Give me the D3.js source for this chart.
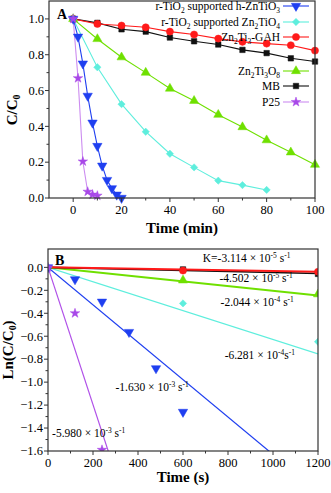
<!DOCTYPE html>
<html><head><meta charset="utf-8">
<script src="https://cdn.jsdelivr.net/npm/d3@7"></script>
<style>body{margin:0;background:#fff}svg{display:block}text{font-family:"Liberation Serif","Times New Roman",serif;fill:#000}</style>
</head><body><svg id="c" width="331" height="493"></svg>
<script>
// ---------- Panel A data ----------
const seriesNames = ["r-TiO_2 supported h-ZnTiO_3","r-TiO_2 supported Zn_2TiO_4","Zn_2Ti_3-GAH","Zn_2Ti_3O_8","MB","P25"];
const hZnTiO3_t = [0,2,4,6,8,10,12,14,16,18,20];
const hZnTiO3_c = [1.0,0.9,0.75,0.57,0.42,0.29,0.18,0.10,0.054,0.018,0.0];
const Zn2TiO4_t = [0,10,20,30,40,50,60,70,80];
const Zn2TiO4_c = [1.0,0.73,0.524,0.37,0.247,0.171,0.097,0.072,0.045];
const GAH_t = [0,10,20,30,40,50,60,70,80,90,100];
const GAH_c = [1.0,0.972,0.963,0.953,0.929,0.913,0.89,0.872,0.862,0.853,0.823];
const Zn2Ti3O8_t = [0,10,20,30,40,50,60,70,80,90,100];
const Zn2Ti3O8_c = [1.0,0.888,0.786,0.70,0.611,0.543,0.465,0.396,0.323,0.255,0.186];
const MB_t = [0,10,20,30,40,50,60,70,80,90,100];
const MB_c = [1.0,0.978,0.942,0.929,0.896,0.875,0.857,0.827,0.809,0.78,0.762];
const P25_t = [0,2,4,6,8,10];
const P25_c = [1.0,0.669,0.204,0.035,0.019,0.013];
const ticksA_x = [0,20,40,60,80,100];
const ticksA_y = [0.0,0.2,0.4,0.6,0.8,1.0];

// ---------- Panel B data ----------
const hZnTiO3_s = [0,120,240,360,480,600];
const hZnTiO3_ln = [0,-0.105,-0.30,-0.564,-0.88,-1.26];
const Zn2TiO4_s = [0,600,1200];
const Zn2TiO4_ln = [0,-0.314,-0.648];
const GAH_s = [0,600,1200];
const GAH_ln = [0,-0.028,-0.038];
const Zn2Ti3O8_s = [0,600,1200];
const Zn2Ti3O8_ln = [0,-0.113,-0.234];
const MB_s = [0,600,1200];
const MB_ln = [0,-0.018,-0.057];
const P25_s = [0,120,240];
const P25_ln = [0,-0.40,-1.59];
const rateK = [-1.630e-3,-6.281e-4,-3.114e-5,-2.044e-4,-4.502e-5,-5.980e-3];
const rateLabels = ["-1.630 × 10^{-3} s^{-1}","-6.281 × 10^{-4}s^{-1}","K=-3.114 × 10^{-5} s^{-1}","-2.044 × 10^{-4} s^{-1}","-4.502 × 10^{-5} s^{-1}","-5.980 × 10^{-3} s^{-1}"];
const ticksB_x = [0,200,400,600,800,1000,1200];
const ticksB_y = [0.0,-0.2,-0.4,-0.6,-0.8,-1.0,-1.2,-1.4,-1.6];

// ---------- styles ----------
const colors = ["#1f3ff0","#5eeedd","#ff1a1a","#6fe000","#111111","#a848e8"];
const lineColors = ["#1f3ff0","#5eeedd","#ff1a1a","#6fe000","#111111","#cc8cf0"];
const shapes = [d3.symbolTriangle,d3.symbolDiamond2,d3.symbolCircle,d3.symbolTriangle,d3.symbolSquare,d3.symbolStar];
const rotations = [180,0,0,0,0,0];
const sizes = [38,34,40,36,30,28];

const dataA = [[hZnTiO3_t,hZnTiO3_c],[Zn2TiO4_t,Zn2TiO4_c],[GAH_t,GAH_c],[Zn2Ti3O8_t,Zn2Ti3O8_c],[MB_t,MB_c],[P25_t,P25_c]];
const dataB = [[hZnTiO3_s,hZnTiO3_ln],[Zn2TiO4_s,Zn2TiO4_ln],[GAH_s,GAH_ln],[Zn2Ti3O8_s,Zn2Ti3O8_ln],[MB_s,MB_ln],[P25_s,P25_ln]];

const svg = d3.select("#c");

function rich(sel, str){
  const parts = str.split(/(_\{[^}]*\}|\^\{[^}]*\}|_.|\^.)/).filter(s=>s.length);
  let shift = 0;
  parts.forEach(p=>{
    let txt=p, dy=0, small=false;
    if(p[0]==="_"||p[0]==="^"){
      txt = p[1]==="{"?p.slice(2,-1):p.slice(1);
      const target = p[0]==="_"?3:-4;
      dy = target-shift; shift=target; small=true;
    } else { dy = -shift; shift=0; }
    const t = sel.append("tspan").text(txt).attr("dy",dy);
    if(small) t.attr("font-size","0.65em");
  });
}

function frame(g,x,y){
  const [x0,x1]=x.range(), [y0,y1]=y.range();
  g.append("rect").attr("x",x0).attr("y",Math.min(y0,y1)).attr("width",x1-x0).attr("height",Math.abs(y0-y1))
   .attr("fill","none").attr("stroke","#333").attr("stroke-width",1.2);
}
function axes(g,x,y,xt,yt,xMinor,yMinor,fmtX,fmtY){
  const yb = y.range()[0], xl = x.range()[0];
  xt.forEach(v=>{ g.append("line").attr("x1",x(v)).attr("x2",x(v)).attr("y1",yb).attr("y2",yb+4).attr("stroke","#333");
    g.append("text").attr("x",x(v)).attr("y",yb+16).attr("text-anchor","middle").attr("font-size",12.5).text(fmtX(v)); });
  xMinor.forEach(v=>g.append("line").attr("x1",x(v)).attr("x2",x(v)).attr("y1",yb).attr("y2",yb+2.5).attr("stroke","#333"));
  yt.forEach(v=>{ g.append("line").attr("x1",xl-4).attr("x2",xl).attr("y1",y(v)).attr("y2",y(v)).attr("stroke","#333");
    g.append("text").attr("x",xl-5).attr("y",y(v)+4.3).attr("text-anchor","end").attr("font-size",12.5).text(fmtY(v)); });
  yMinor.forEach(v=>g.append("line").attr("x1",xl-2.5).attr("x2",xl).attr("y1",y(v)).attr("y2",y(v)).attr("stroke","#333"));
}
function marker(g,i,px,py){
  g.append("path").attr("d",d3.symbol().type(shapes[i]).size(sizes[i])())
   .attr("transform",`translate(${px},${py}) rotate(${rotations[i]})`)
   .attr("fill",colors[i]).attr("stroke",colors[i]).attr("stroke-width",0.5);
}

// ---------- Panel A ----------
const xA = d3.scaleLinear().domain([-10,100]).range([49,315]);
const yA = d3.scaleLinear().domain([0,1.1]).range([198,1]);
const gA = svg.append("g");
const drawOrder = [4,2,3,1,0,5];
drawOrder.forEach(i=>{
  const [t,c]=dataA[i];
  const pts = t.map((v,j)=>[xA(v),yA(c[j])]);
  gA.append("path").attr("d",d3.line()(pts)).attr("fill","none").attr("stroke",lineColors[i]).attr("stroke-width",1.1);
});
drawOrder.forEach(i=>{
  const [t,c]=dataA[i];
  t.forEach((v,j)=>marker(gA,i,xA(v),yA(c[j])));
});
frame(gA,xA,yA);
axes(gA,xA,yA,ticksA_x,ticksA_y,d3.range(-10,101,10).filter(v=>v%20!==0&&v>-10),d3.range(0.1,1.1,0.2),d3.format("d"),d3.format(".1f"));
// legend
const legY = [6,22,37,71,86,102];
seriesNames.forEach((n,i)=>{
  const ly = legY[i];
  gA.append("line").attr("x1",283).attr("x2",309).attr("y1",ly).attr("y2",ly).attr("stroke",lineColors[i]).attr("stroke-width",1.1);
  marker(gA,i,296,ly);
  const t = gA.append("text").attr("x",280).attr("y",ly+3.8).attr("text-anchor","end").attr("font-size",11.5);
  rich(t,n);
});
gA.append("text").attr("x",57).attr("y",19).attr("font-size",14).attr("font-weight","bold").text("A");
gA.append("text").attr("x",182).attr("y",233).attr("text-anchor","middle").attr("font-size",15).attr("font-weight","bold").text("Time (min)");
const ytA = gA.append("text").attr("transform","translate(17,110) rotate(-90)").attr("text-anchor","middle").attr("font-size",15).attr("font-weight","bold");
rich(ytA,"C/C_0");

// ---------- Panel B ----------
const xB = d3.scaleLinear().domain([0,1200]).range([48,318]);
const yB = d3.scaleLinear().domain([-1.6,0.16]).range([451,249]);
const gB = svg.append("g");
svg.append("defs").append("clipPath").attr("id","clipB").append("rect")
  .attr("x",48).attr("y",249).attr("width",270).attr("height",202);
const plotB = gB.append("g").attr("clip-path","url(#clipB)");
const fitOrder = [5,0,1,3,4,2];
const fitW = [1.2,1.2,2,2,1.6,1.2];
fitOrder.forEach(i=>{
  const xs=[0,1200];
  plotB.append("path").attr("d",d3.line()(xs.map(v=>[xB(v),yB(rateK[i]*v)])))
    .attr("fill","none").attr("stroke",i===5?"#b050e8":lineColors[i]).attr("stroke-width",fitW[i]);
});
[4,2,3,1,0,5].forEach(i=>{
  const [s,l]=dataB[i];
  s.forEach((v,j)=>{ if(v>0) marker(plotB,i,xB(v),yB(l[j])); });
});
[1,0,5].forEach(i=>marker(plotB,i,xB(0),yB(0)));
frame(gB,xB,yB);
axes(gB,xB,yB,ticksB_x,ticksB_y,d3.range(100,1200,200),d3.range(-1.5,0.1,0.2),d3.format("d"),d3.format(".1f"));
// rate labels
const labPos = [[300,-1.04],[785,-0.763],[688,0.082],[767,-0.30],[762,-0.092],[18,-1.44]];
rateLabels.forEach((txt,i)=>{
  const t = gB.append("text").attr("x",xB(labPos[i][0])).attr("y",yB(labPos[i][1])+4).attr("font-size",11.5);
  rich(t,txt);
});
gB.append("text").attr("x",55).attr("y",265).attr("font-size",14).attr("font-weight","bold").text("B");
gB.append("text").attr("x",183).attr("y",482).attr("text-anchor","middle").attr("font-size",15).attr("font-weight","bold").text("Time (s)");
const ytB = gB.append("text").attr("transform","translate(13,350) rotate(-90)").attr("text-anchor","middle").attr("font-size",15).attr("font-weight","bold");
rich(ytB,"Ln(C/C_0)");
</script></body></html>
